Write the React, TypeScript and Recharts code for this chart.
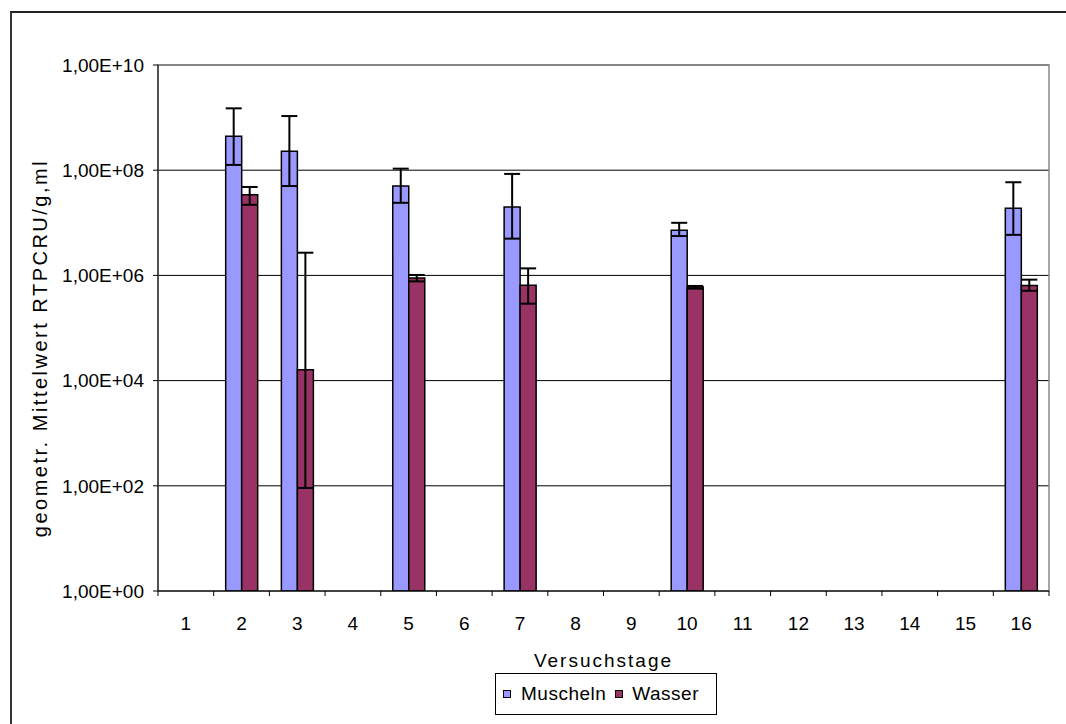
import React from "react";
import {
  Bar,
  BarChart,
  CartesianGrid,
  ErrorBar,
  ReferenceArea,
  XAxis,
  YAxis,
} from "recharts";

const days = ["1", "2", "3", "4", "5", "6", "7", "8", "9", "10", "11", "12", "13", "14", "15", "16"];

// geometric means (null = no bar)
const muscheln = [null, 4.4e8, 2.3e8, null, 5.0e7, null, 2.0e7, null, null, 7.2e6, null, null, null, null, null, 1.9e7];
const muschelnLow = [null, 1.26e8, 5.0e7, null, 2.4e7, null, 5.0e6, null, null, 5.6e6, null, null, null, null, null, 5.9e6];
const muschelnHigh = [null, 1.5e9, 1.07e9, null, 1.07e8, null, 8.5e7, null, null, 1.0e7, null, null, null, null, null, 5.9e7];

const wasser = [null, 3.4e7, 1.6e4, null, 8.9e5, null, 6.5e5, null, null, 6.0e5, null, null, null, null, null, 6.4e5];
const wasserLow = [null, 2.2e7, 91, null, 7.7e5, null, 2.9e5, null, null, 5.6e5, null, null, null, null, null, 5.1e5];
const wasserHigh = [null, 4.8e7, 2.7e6, null, 1.02e6, null, 1.36e6, null, null, 6.3e5, null, null, null, null, null, 8.3e5];

const yTicks = [1, 1e2, 1e4, 1e6, 1e8, 1e10];

const FONT = "'Liberation Sans', Arial, sans-serif";
const BLUE = "#9999FF";
const PURPLE = "#993366";

const delta = (v: number | null, lo: number | null, hi: number | null) =>
  v == null || lo == null || hi == null ? null : [v - lo, hi - v];

const data = days.map((d, i) => ({
  day: d,
  muscheln: muscheln[i],
  muschelnErr: delta(muscheln[i], muschelnLow[i], muschelnHigh[i]),
  wasser: wasser[i],
  wasserErr: delta(wasser[i], wasserLow[i], wasserHigh[i]),
}));

const fmtExp = (v: number) => {
  const e = Math.round(Math.log10(v));
  return `1,00E+${String(e).padStart(2, "0")}`;
};

function DayTick(props: any) {
  const { x, y, payload, index } = props;
  const half = payload.offset ?? 0;
  return (
    <g>
      <line x1={x - half} x2={x - half} y1={y - 5} y2={y} stroke="#000" strokeWidth={1} />
      {index === days.length - 1 && (
        <line x1={x + half} x2={x + half} y1={y - 5} y2={y} stroke="#000" strokeWidth={1} />
      )}
      <text x={x} y={y + 34} textAnchor="middle" fontSize={19} fontFamily={FONT} fill="#000">
        {payload.value}
      </text>
    </g>
  );
}

function YTitle(props: any) {
  const vb = props.viewBox;
  const cx = vb.x + 30;
  const cy = vb.y + vb.height / 2 + 20;
  return (
    <text
      x={cx}
      y={cy}
      transform={`rotate(-90, ${cx}, ${cy})`}
      textAnchor="middle"
      dominantBaseline="central"
      fontSize={20}
      letterSpacing={2.5}
      fontFamily={FONT}
      fill="#000"
    >
      geometr. Mittelwert RTPCRU/g,ml
    </text>
  );
}

function LegendBox() {
  const swatch = (color: string) => (
    <div style={{ width: 6, height: 6, background: color, border: "1.5px solid #000", flex: "none" }} />
  );
  const label = { fontSize: 19, letterSpacing: 0.5, fontFamily: FONT, lineHeight: "20px" };
  return (
    <div
      style={{
        position: "absolute",
        left: 495,
        top: 673,
        width: 222,
        height: 42,
        boxSizing: "border-box",
        border: "1px solid #000",
        background: "#fff",
        display: "flex",
        alignItems: "center",
        paddingLeft: 7,
      }}
    >
      {swatch(BLUE)}
      <span style={{ ...label, marginLeft: 10 }}>Muscheln</span>
      <div style={{ marginLeft: 9 }}>{swatch(PURPLE)}</div>
      <span style={{ ...label, marginLeft: 9 }}>Wasser</span>
    </div>
  );
}

export default function App() {
  return (
    <div style={{ position: "fixed", left: 0, top: 0, width: 1066, height: 724, overflow: "hidden", background: "#fff" }}>
      <div
        style={{
          position: "absolute",
          left: 10,
          top: 11,
          width: 1100,
          height: 800,
          borderLeft: "2px solid #333",
          borderTop: "2px solid #222",
        }}
      />
      <div style={{ position: "absolute", left: 0, top: 0 }}>
        <BarChart
          width={1066}
          height={724}
          data={data}
          margin={{ top: 65, right: 17, left: 10, bottom: 53 }}
          barSize={16}
          barGap={0}
        >
          <CartesianGrid vertical={false} stroke="#000" strokeWidth={1} />
          <ReferenceArea x1="1" x2="16" y1={1} y2={1e10} fill="none" stroke="#888" strokeWidth={1.5} />
          <XAxis
            dataKey="day"
            height={80}
            axisLine={{ stroke: "#000" }}
            tickLine={false}
            tickSize={5}
            tickMargin={0}
            interval={0}
            tick={<DayTick />}
            label={{
              value: "Versuchstage",
              position: "insideBottom",
              offset: 4,
              style: { fontSize: 19, letterSpacing: 2, fontFamily: FONT, fill: "#000" },
            }}
          />
          <YAxis
            scale="log"
            domain={[1, 1e10]}
            allowDataOverflow
            ticks={yTicks}
            tickFormatter={fmtExp}
            width={148}
            tickSize={5}
            tickMargin={9}
            axisLine={{ stroke: "#000" }}
            tickLine={{ stroke: "#000" }}
            tick={{ fontSize: 19, fontFamily: FONT, fill: "#000" }}
            label={<YTitle />}
          />
          <Bar dataKey="muscheln" fill={BLUE} stroke="#000" strokeWidth={1.5} isAnimationActive={false}>
            <ErrorBar dataKey="muschelnErr" width={8} stroke="#000" strokeWidth={2} direction="y" />
          </Bar>
          <Bar dataKey="wasser" fill={PURPLE} stroke="#000" strokeWidth={1.5} isAnimationActive={false}>
            <ErrorBar dataKey="wasserErr" width={8} stroke="#000" strokeWidth={2} direction="y" />
          </Bar>
        </BarChart>
      </div>
      <LegendBox />
    </div>
  );
}
